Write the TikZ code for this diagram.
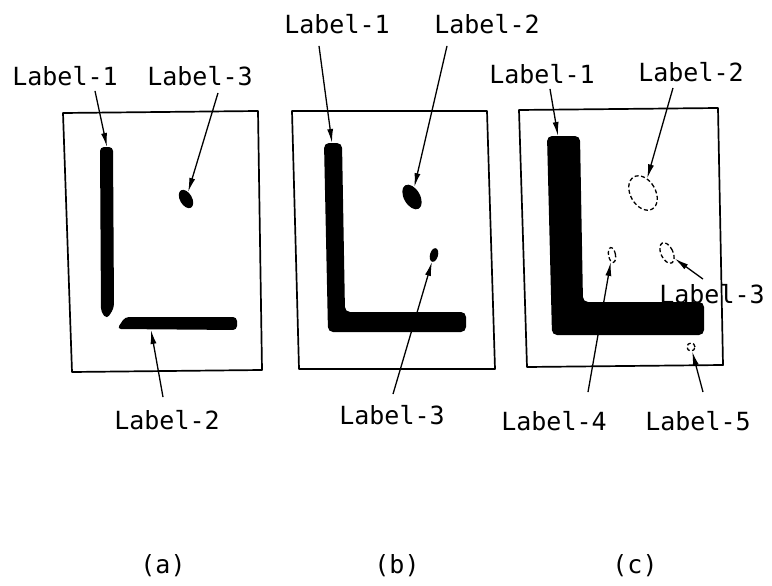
\documentclass[tikz,border=0pt]{standalone}
\usepackage{fontspec}
\setmonofont{DejaVu Sans Mono}
\usetikzlibrary{shapes.geometric, arrows.meta}

\begin{document}
\begin{tikzpicture}[x=1pt, y=-1pt,
    lbl/.style={font=\ttfamily\fontsize{25}{28}\selectfont, inner sep=3pt},
    frame/.style={line width=1.7pt, line join=round},
    bar/.style={fill=black, rounded corners=5pt},
    blob/.style={ellipse, fill=black, inner sep=0pt},
    ghost/.style={ellipse, draw, line width=1.3pt, dash pattern=on 4pt off 2.5pt, inner sep=0pt},
    pointer/.style={line width=1.3pt, -{Latex[length=14pt,width=6pt]}}]
\useasboundingbox (0,0) rectangle (772,586);

% the three frames, a little skewed
\draw[frame] (63,113) -- (258,111) -- (262,370) -- (72,372) -- cycle;
\draw[frame] (292,111) -- (487,111) -- (495,369) -- (299,369) -- cycle;
\draw[frame] (519,110) -- (718,108) -- (723,365) -- (527,367) -- cycle;

% (a) L broken in two, one spot
\fill[bar, rounded corners=4pt] (100,147) -- (113,147) -- (114,308) -- (107,319) -- (101,312) -- cycle;
\fill[bar, rounded corners=4pt] (117,329) -- (125,317) -- (237,317) -- (237,330) -- cycle;
\node[blob, minimum width=12pt, minimum height=20pt, rotate=30] (a3) at (186,199) {};
\coordinate (a1) at (107,147);
\coordinate (a2) at (151,330);

% (b) joined L, two spots
\fill[bar] (324,143) -- (342,143) -- (345,312) -- (466,312) -- (466,332) -- (328,332) -- cycle;
\node[blob, minimum width=16pt, minimum height=27pt, rotate=30] (b2) at (412,197) {};
\node[blob, minimum width=8pt, minimum height=14pt, rotate=-15] (b3) at (434,255) {};
\coordinate (b1) at (332,143);

% (c) thick L, spots gone (dashed)
\fill[bar] (547,136) -- (580,136) -- (583,302) -- (704,302) -- (704,335) -- (552,335) -- cycle;
\node[ghost, minimum width=25pt, minimum height=37pt, rotate=30] (c2) at (643,193) {};
\node[ghost, minimum width=12pt, minimum height=22pt, rotate=25] (c3) at (667,253) {};
\node[ghost, minimum width=7pt, minimum height=15pt, rotate=10] (c4) at (612,255) {};
\node[ghost, circle, minimum size=8pt] (c5) at (691,347) {};
\coordinate (c1) at (558,136);

% labels
\foreach \nm/\x/\y/\txt in {la1/65/76/Label-1, la3/200/76/Label-3, la2/167/420/Label-2,
    lb1/337/24/Label-1, lb2/487/24/Label-2, lb3/392/415/Label-3,
    lc1/542/74/Label-1, lc2/691/72/Label-2, lc3/712/294/Label-3,
    lc4/554/421/Label-4, lc5/698/421/Label-5}
  \node[lbl] (\nm) at (\x,\y) {\txt};

% arrows: label anchor, shift, target
\foreach \from/\dx/\dy/\to in {la1.south/30/-2/a1, la3.south/18/-4/a3, la2.north/-4/10/a2,
    lb1.south/-18/-9/b1, lb2.south/-40/-9/b2, lb3.north/1/8/b3,
    lc1.south/8/-2/c1, lc2.south/-18/-3/c2, lc3.north/-9/2/c3,
    lc4.north/34/16/c4, lc5.north/5/16/c5}
  \draw[pointer] ([xshift=\dx pt, yshift=\dy pt]\from) -- (\to);

% captions
\node[lbl] (capa) at (163,566) {(a)};
\node[lbl] (capb) at (397,566) {(b)};
\node[lbl] (capc) at (635,566) {(c)};
\end{tikzpicture}
\end{document}
